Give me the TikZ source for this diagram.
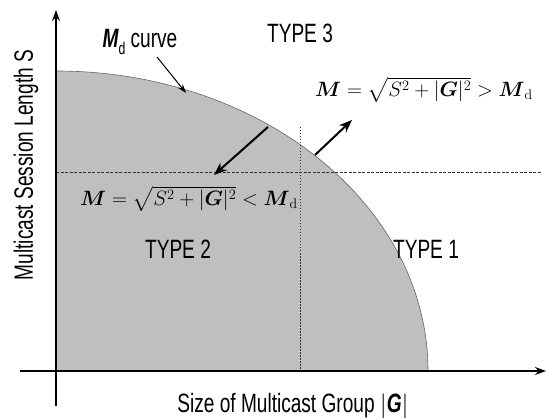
\documentclass[tikz,border=0pt]{standalone}
\usepackage{amsmath}
\usepackage{fontspec}
\newfontfamily\narrow[FakeStretch=0.72]{Liberation Sans}
\usetikzlibrary{arrows.meta}
\tikzset{
  lbl/.style={font=\narrow\fontsize{26.5}{30}\selectfont, inner sep=0pt},
  frm/.style={font=\fontsize{20}{24}\selectfont, inner sep=0pt, anchor=west},
  axis/.style={line width=1.3pt, -{Stealth[length=11pt,width=8pt]}},
  thickarrow/.style={line width=2pt, -{Stealth[length=13pt,width=10pt]}},
  thinarrow/.style={line width=1pt, -{Stealth[length=9pt,width=6pt]}},
  guide/.style={line width=0.6pt, black!80}
}
\begin{document}
\begin{tikzpicture}[x=1pt,y=1pt]
\useasboundingbox (0,0) rectangle (546,418);
% shaded region
\fill[black!25] (56,47) -- (56,347) arc[start angle=90,end angle=0,x radius=372,y radius=300] -- cycle;
\draw[line width=0.6pt, black!60] (56,347) arc[start angle=90,end angle=0,x radius=372,y radius=300];
% guide lines
\coordinate (hl) at (56,246);
\coordinate (hr) at (542,246);
\coordinate (vt) at (300,291);
\coordinate (vb) at (300,47);
\draw[guide, dash pattern=on 3pt off 1.5pt] (hl) -- (hr);
\draw[guide, dash pattern=on 1.5pt off 1.5pt] (vt) -- (vb);
% axes
\coordinate (xl) at (20,47);
\coordinate (xr) at (546,47);
\coordinate (yb) at (56,12);
\coordinate (yt) at (56,408);
\draw[axis] (xl) -- (xr);
\draw[axis] (yb) -- (yt);
% labels
\node[lbl] (t3) at (300,385) {TYPE 3};
\node[lbl] (t2) at (178,169) {TYPE 2};
\node[lbl] (t1) at (426,169) {TYPE 1};
\node[lbl] (xlab) at (293,12) {Size of Multicast Group $|$\textbf{\textit{G}}$|$};
\node[lbl, rotate=90] (ylab) at (26,253) {Multicast Session Length S};
\node[lbl] (mdc) at (140,376) {{\bfseries\itshape M}\raisebox{-0.25em}{\fontsize{17}{19}\selectfont d} curve};
% formulas
\node[frm] (fup) at (315,328) {$\boldsymbol{M} = \sqrt{S^2 + |\boldsymbol{G}|^2} > \boldsymbol{M}_{\mathrm{d}}$};
\node[frm] (flo) at (80,219) {$\boldsymbol{M} = \sqrt{S^2 + |\boldsymbol{G}|^2} < \boldsymbol{M}_{\mathrm{d}}$};
% arrows
\coordinate (ia) at (268,291);
\coordinate (ib) at (214,243);
\coordinate (oa) at (315,263);
\coordinate (ob) at (352,298);
\coordinate (ma) at (157,361);
\coordinate (mb) at (186,325);
\draw[thickarrow] (ia) -- (ib);
\draw[thickarrow] (oa) -- (ob);
\draw[thinarrow] (ma) -- (mb);
\end{tikzpicture}
\end{document}
